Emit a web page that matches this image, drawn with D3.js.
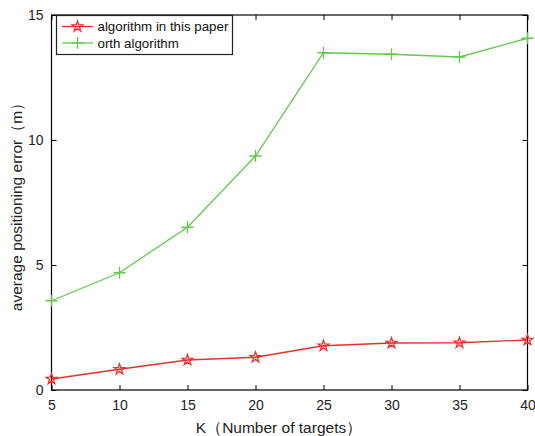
<!DOCTYPE html>
<html><head><meta charset="utf-8">
<script src="https://cdn.jsdelivr.net/npm/d3@7/dist/d3.min.js"></script>
<style>body{margin:0;background:#fff}svg{display:block}text{font-family:"Liberation Sans",Arial,sans-serif}</style>
</head><body>
<svg id="c" width="535" height="436"></svg>
<script>
const kValues = [5, 10, 15, 20, 25, 30, 35, 40];
const paperAlg = [0.44, 0.83, 1.2, 1.31, 1.77, 1.88, 1.89, 2.0];
const orthAlg = [3.57, 4.69, 6.51, 9.36, 13.49, 13.43, 13.32, 14.07];
const seriesNames = ["algorithm in this paper", "orth algorithm"];
const xTicks = [5, 10, 15, 20, 25, 30, 35, 40];
const yTicks = [0, 5, 10, 15];

const svg = d3.select("#c");
const m = {l: 51.5, r: 527.5, t: 15, b: 390};
const x = d3.scaleLinear().domain([5, 40]).range([m.l, m.r]);
const y = d3.scaleLinear().domain([0, 15]).range([m.b, m.t]);
const red = "#e6302b", green = "#62c94e";

svg.append("rect").attr("x", m.l).attr("y", m.t).attr("width", m.r - m.l).attr("height", m.b - m.t)
  .attr("fill", "none").attr("stroke", "#000").attr("stroke-width", 1.2);

const tl = 5;
const gx = svg.append("g").attr("transform", `translate(0,${m.b})`)
  .call(d3.axisBottom(x).tickValues(xTicks).tickSizeInner(-tl).tickSizeOuter(0).tickPadding(10));
const gxt = svg.append("g").attr("transform", `translate(0,${m.t})`)
  .call(d3.axisTop(x).tickValues(xTicks).tickSizeInner(-tl).tickSizeOuter(0).tickFormat(""));
const gy = svg.append("g").attr("transform", `translate(${m.l},0)`)
  .call(d3.axisLeft(y).tickValues(yTicks).tickSizeInner(-tl).tickSizeOuter(0).tickPadding(8));
const gyr = svg.append("g").attr("transform", `translate(${m.r},0)`)
  .call(d3.axisRight(y).tickValues(yTicks).tickSizeInner(-tl).tickSizeOuter(0).tickFormat(""));
[gx, gxt, gy, gyr].forEach(g => {
  g.select(".domain").remove();
  g.selectAll("line").attr("stroke", "#000").attr("stroke-width", 1);
  g.selectAll("text").attr("fill", "#222").style("font-size", "14px");
});
gy.selectAll("text").attr("dy", "0.35em");

svg.append("text").attr("x", 279).attr("y", 433).attr("text-anchor", "middle")
  .style("font-size", "15.5px").attr("fill", "#222").text("K（Number of targets）");
svg.append("text").attr("transform", `translate(22,203) rotate(-90)`).attr("text-anchor", "middle")
  .style("font-size", "15.5px").attr("fill", "#222").text("average positioning error（m）");

const line = d3.line().x((d, i) => x(kValues[i])).y(d => y(d));
svg.append("path").datum(orthAlg).attr("d", line).attr("fill", "none").attr("stroke", green).attr("stroke-width", 1.3);
svg.append("path").datum(paperAlg).attr("d", line).attr("fill", "none").attr("stroke", red).attr("stroke-width", 1.3);

const star = d3.symbol().type(d3.symbolStar).size(36);
function drawStar(g, cx, cy) {
  g.append("path").attr("d", star()).attr("transform", `translate(${cx},${cy})`)
    .attr("fill", "rgba(230,48,43,0.2)").attr("stroke", red).attr("stroke-width", 1.2);
}
function drawPlus(g, cx, cy) {
  const s = 6;
  g.append("path").attr("d", `M${cx - s},${cy}H${cx + s}M${cx},${cy - s}V${cy + s}`)
    .attr("stroke", green).attr("stroke-width", 1.3).attr("fill", "none");
}
const mk = svg.append("g");
orthAlg.forEach((v, i) => drawPlus(mk, x(kValues[i]), y(v)));
paperAlg.forEach((v, i) => drawStar(mk, x(kValues[i]), y(v)));

const lg = svg.append("g");
lg.append("rect").attr("x", 56.5).attr("y", 15.5).attr("width", 176).attr("height", 39)
  .attr("fill", "#fff").attr("stroke", "#222").attr("stroke-width", 1.2);
const rows = [26.5, 43];
lg.append("line").attr("x1", 62).attr("x2", 93).attr("y1", rows[0]).attr("y2", rows[0]).attr("stroke", red).attr("stroke-width", 1.3);
drawStar(lg, 77.5, rows[0]);
lg.append("line").attr("x1", 62).attr("x2", 93).attr("y1", rows[1]).attr("y2", rows[1]).attr("stroke", green).attr("stroke-width", 1.3);
drawPlus(lg, 77.5, rows[1]);
seriesNames.forEach((n, i) => lg.append("text").attr("x", 97.5).attr("y", rows[i]).attr("dy", "0.35em")
  .style("font-size", "13.3px").attr("fill", "#111").text(n));
</script>
</body></html>
